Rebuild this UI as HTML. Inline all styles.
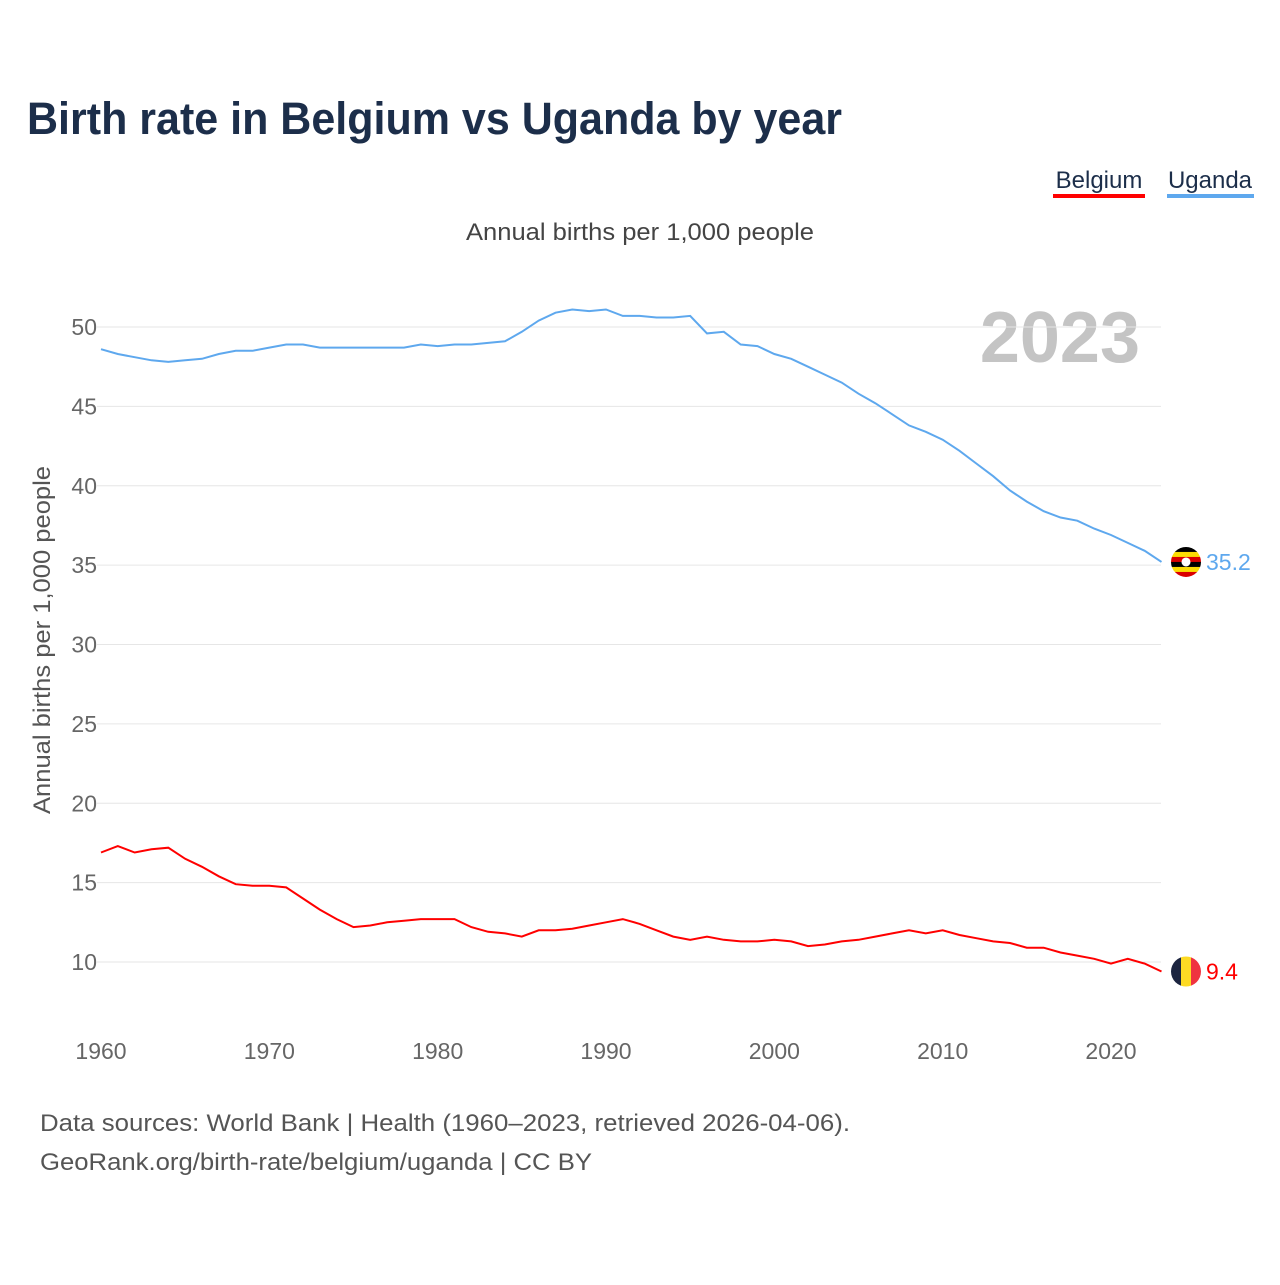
<!DOCTYPE html>
<html><head><meta charset="utf-8">
<style>
html,body{margin:0;padding:0;background:#fff;}
body{width:1280px;height:1280px;position:relative;font-family:"Liberation Sans",sans-serif;overflow:hidden;}
svg text{font-family:"Liberation Sans",sans-serif;}
</style></head>
<body>
<svg id="chart" width="1280" height="1280" viewBox="0 0 1280 1280" xmlns="http://www.w3.org/2000/svg">
<text x="27" y="134" font-size="45" font-weight="bold" fill="#1c2e4a" textLength="815" lengthAdjust="spacingAndGlyphs">Birth rate in Belgium vs Uganda by year</text>
<g><text x="1099" y="188" font-size="24" fill="#1c2e4a" text-anchor="middle">Belgium</text><rect x="1053" y="194" width="92" height="4" fill="#ff0000"/></g>
<g><text x="1210" y="188" font-size="24" fill="#1c2e4a" text-anchor="middle">Uganda</text><rect x="1167" y="194" width="87" height="4" fill="#5ea8ee"/></g>
<text x="466" y="240" font-size="24" fill="#444" textLength="348" lengthAdjust="spacingAndGlyphs">Annual births per 1,000 people</text>
<text x="1140" y="362" font-size="72" font-weight="bold" fill="#c4c4c4" text-anchor="end">2023</text>
<text transform="translate(50,640) rotate(-90)" font-size="24" fill="#555" text-anchor="middle" textLength="348" lengthAdjust="spacingAndGlyphs">Annual births per 1,000 people</text>
<g id="grid"></g><g id="yticks"></g><g id="xticks"></g><g id="lines"></g><g id="ends"></g>
<text x="40" y="1131" font-size="24" fill="#555" textLength="810" lengthAdjust="spacingAndGlyphs">Data sources: World Bank | Health (1960–2023, retrieved 2026-04-06).</text>
<text x="40" y="1170" font-size="24" fill="#555" textLength="552" lengthAdjust="spacingAndGlyphs">GeoRank.org/birth-rate/belgium/uganda | CC BY</text>
</svg>
<script>
const years = Array.from({length:64},(_,i)=>1960+i);
const uganda = [48.6,48.3,48.1,47.9,47.8,47.9,48.0,48.3,48.5,48.5,48.7,48.9,48.9,48.7,48.7,48.7,48.7,48.7,48.7,48.9,48.8,48.9,48.9,49.0,49.1,49.7,50.4,50.9,51.1,51.0,51.1,50.7,50.7,50.6,50.6,50.7,49.6,49.7,48.9,48.8,48.3,48.0,47.5,47.0,46.5,45.8,45.2,44.5,43.8,43.4,42.9,42.2,41.4,40.6,39.7,39.0,38.4,38.0,37.8,37.3,36.9,36.4,35.9,35.2];
const belgium = [16.9,17.3,16.9,17.1,17.2,16.5,16.0,15.4,14.9,14.8,14.8,14.7,14.0,13.3,12.7,12.2,12.3,12.5,12.6,12.7,12.7,12.7,12.2,11.9,11.8,11.6,12.0,12.0,12.1,12.3,12.5,12.7,12.4,12.0,11.6,11.4,11.6,11.4,11.3,11.3,11.4,11.3,11.0,11.1,11.3,11.4,11.6,11.8,12.0,11.8,12.0,11.7,11.5,11.3,11.2,10.9,10.9,10.6,10.4,10.2,9.9,10.2,9.9,9.4];
const yTicks = [10,15,20,25,30,35,40,45,50];
const xTicks = [1960,1970,1980,1990,2000,2010,2020];
const NS="http://www.w3.org/2000/svg";
const xs = y => 101 + (y-1960)*(1161.5-101)/63;
const ys = v => 962 - (v-10)*(635/40);
function mk(tag, attrs, parent){const e=document.createElementNS(NS,tag);for(const k in attrs)e.setAttribute(k,attrs[k]);document.getElementById(parent).appendChild(e);return e;}
yTicks.forEach(t=>{
  const l=mk('line',{x1:97,x2:1161,y1:ys(t),y2:ys(t),stroke:'#e6e6e6','stroke-width':1},'grid');
  
  
  const tx=mk('text',{x:97,y:ys(t)+8,'font-size':23,fill:'#666','text-anchor':'end'},'yticks');
  tx.textContent=t;
  
  
});
xTicks.forEach(t=>{
  const tx=mk('text',{x:xs(t),y:1059,'font-size':23,fill:'#666','text-anchor':'middle'},'xticks');
  tx.textContent=t;
  
  
});
function series(vals,color,name){
  const d=vals.map((v,i)=>(i?'L':'M')+xs(years[i]).toFixed(1)+','+ys(v).toFixed(1)).join('');
  const p=mk('path',{d:d,fill:'none',stroke:color,'stroke-width':2},'lines');
  
  
  const last=vals[vals.length-1];
  const lbl=mk('text',{x:1206,y:ys(last)+8,'font-size':23,fill:color},'ends');
  lbl.textContent=last;
  
  
  return ys(last);
}
const yu=series(uganda,'#5ea8ee','uganda');
const yb=series(belgium,'#ff0000','belgium');
const fu=mk('g',{},'ends');


const cols=['#000','#fcdc04','#d90000','#000','#fcdc04','#d90000'];
const cu=mk('clipPath',{id:'cu'},'ends');
const cuc=document.createElementNS(NS,'circle');cuc.setAttribute('cx',1186);cuc.setAttribute('cy',yu);cuc.setAttribute('r',15);cu.appendChild(cuc);
cols.forEach((c,i)=>{const r=document.createElementNS(NS,'rect');r.setAttribute('x',1171);r.setAttribute('y',yu-15+i*5);r.setAttribute('width',30);r.setAttribute('height',5.2);r.setAttribute('fill',c);r.setAttribute('clip-path','url(#cu)');fu.appendChild(r);});
const wc=document.createElementNS(NS,'circle');wc.setAttribute('cx',1186);wc.setAttribute('cy',yu);wc.setAttribute('r',4.5);wc.setAttribute('fill','#fff');fu.appendChild(wc);
const cb=mk('clipPath',{id:'cb'},'ends');
const cc=document.createElementNS(NS,'circle');cc.setAttribute('cx',1186);cc.setAttribute('cy',yb);cc.setAttribute('r',15);cb.appendChild(cc);
const fb=mk('g',{'clip-path':'url(#cb)'},'ends');


['#1c2540','#fdda24','#ef3340'].forEach((c,i)=>{const r=document.createElementNS(NS,'rect');r.setAttribute('x',1171+i*10);r.setAttribute('y',yb-15);r.setAttribute('width',10.2);r.setAttribute('height',30);r.setAttribute('fill',c);fb.appendChild(r);});
</script>
</body></html>
